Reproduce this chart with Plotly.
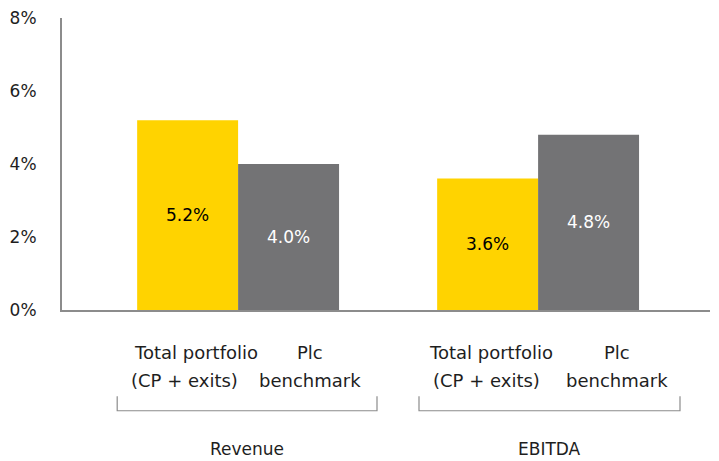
import plotly.graph_objects as go

groups = ["Revenue", "EBITDA"]
total_portfolio = [5.2, 3.6]
plc_benchmark = [4.0, 4.8]
series_lines = [["Total portfolio", "(CP + exits)"], ["Plc", "benchmark"]]
y_ticks = [0, 2, 4, 6, 8]
y_tick_labels = ["%d%%" % v for v in y_ticks]

yellow = "#FFD300"
grey = "#737375"
ink = "#1e1e1e"
font = "DejaVu Sans"

fig = go.Figure()
fig.add_trace(go.Bar(
    x=groups, y=total_portfolio, name="Total portfolio (CP + exits)",
    marker=dict(color=yellow, line=dict(width=0)),
    text=["%.1f%%" % v for v in total_portfolio],
    textposition="inside", insidetextanchor="middle",
    textfont=dict(color="black", size=17, family=font),
))
fig.add_trace(go.Bar(
    x=groups, y=plc_benchmark, name="Plc benchmark",
    marker=dict(color=grey, line=dict(width=0)),
    text=["%.1f%%" % v for v in plc_benchmark],
    textposition="inside", insidetextanchor="middle",
    textfont=dict(color="white", size=17, family=font),
))

# series labels under bars (one annotation per line), brackets, group names
line_offsets = [
    [[-0.14, -0.18], [0.238, 0.24]],
    [[-0.157, -0.173], [0.263, 0.263]],
]
line_y = [-0.144, -0.243]
bracket_spans = [(-0.403, 0.463), (-0.397, 0.473)]
group_label_dx = [0.03, 0.037]
for i, g in enumerate(groups):
    for j, lines in enumerate(series_lines):
        for k, txt in enumerate(lines):
            fig.add_annotation(
                x=i + line_offsets[i][j][k], y=line_y[k], xref="x", yref="paper",
                text=txt, showarrow=False, yanchor="middle", xanchor="center",
                font=dict(size=18, family=font, color=ink),
            )
    x0, x1 = bracket_spans[i]
    fig.add_shape(
        type="path", xref="x", yref="paper",
        path="M %f,-0.295 L %f,-0.345 L %f,-0.345 L %f,-0.295" % (i + x0, i + x0, i + x1, i + x1),
        line=dict(color="#8c8c8c", width=1.2),
    )
    fig.add_annotation(
        x=i + group_label_dx[i], y=-0.476, xref="x", yref="paper",
        text=g, showarrow=False, yanchor="middle",
        font=dict(size=17, family=font, color=ink),
    )

fig.update_layout(
    width=719, height=461,
    margin=dict(l=62, r=9, t=18, b=151),
    plot_bgcolor="white", paper_bgcolor="white",
    barmode="group", bargap=0.327, bargroupgap=0,
    showlegend=False,
    font=dict(family=font, size=17, color=ink),
    xaxis=dict(
        range=[-0.587, 1.573], showticklabels=False, ticks="",
        showline=True, linecolor="#8c8c8c", linewidth=2, showgrid=False,
        zeroline=False, automargin=False,
    ),
    yaxis=dict(
        range=[0, 8], tickvals=y_ticks, ticktext=y_tick_labels, showgrid=False,
        showline=True, linecolor="#8c8c8c", linewidth=2, zeroline=False,
        ticks="", ticklabelstandoff=20, automargin=False,
        tickfont=dict(size=17, family=font, color=ink),
    ),
)

# drop the default 8px page margin so the figure sits at the window's corner
fig.write_html(
    "out.html",
    config={"displayModeBar": False},
    post_script="document.body.style.margin = '0';",
)
